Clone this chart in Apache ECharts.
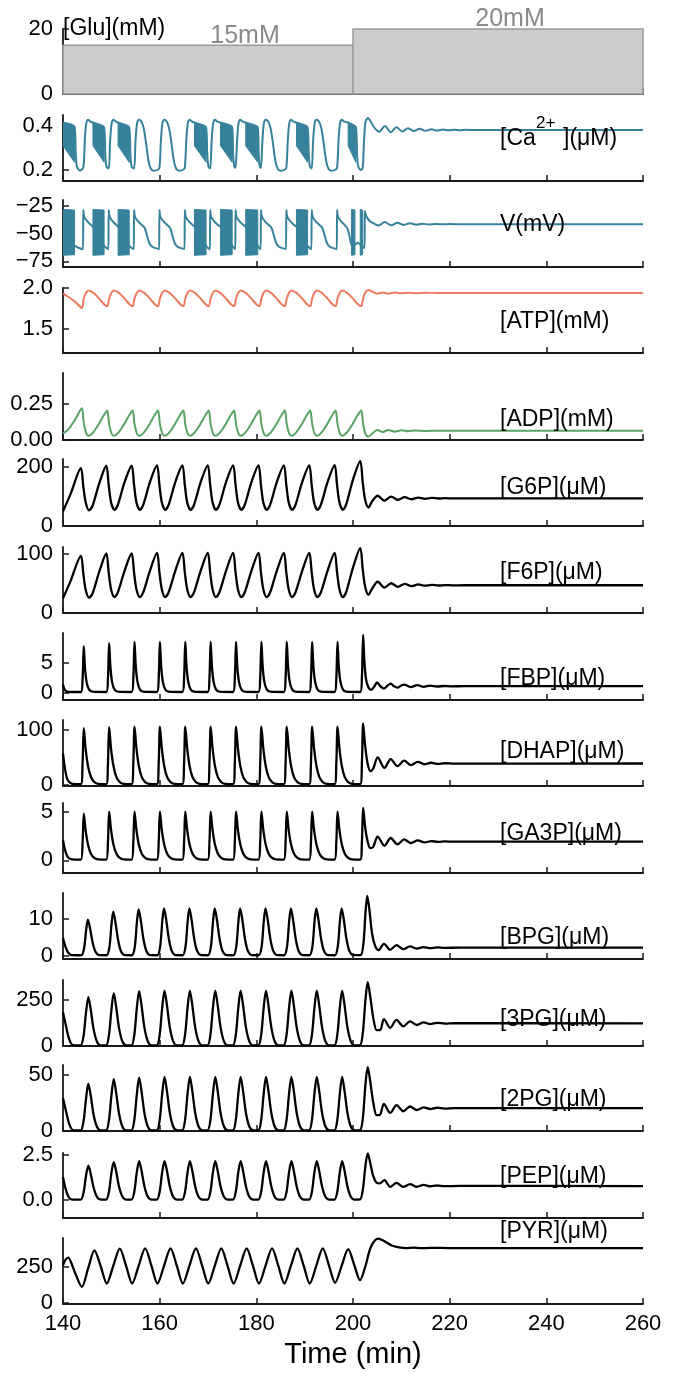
<!DOCTYPE html>
<html>
<head>
<meta charset="utf-8">
<script src="https://cdn.jsdelivr.net/npm/echarts@6/dist/echarts.min.js"></script>
<style>
  html, body { margin: 0; padding: 0; background: #fff; }
  #chart { width: 677px; height: 1373px; }
</style>
</head>
<body>
<div id="chart"></div>
<script>
// ---- Stimulus: glucose steps [start, end, level mM] ----
const gluSteps = [[140, 200, 15], [200, 260, 20]];

// ---- Fast bursting episodes [start, end] (min) ----
const caBursts = [[140, 142.4], [146.2, 148.5], [151.4, 153.7], [167.2, 169.6], [172.6, 175.0], [177.8, 180.3], [188.3, 190.6], [199.0, 200.6]];
const caBurstTop = [0.418, 0.398];
const caBurstBottom = [0.31, 0.235];
const vBursts = [[140, 142.4], [146.2, 148.5], [151.4, 153.7], [167.2, 169.6], [172.6, 175.0], [177.8, 180.3], [188.3, 190.6], [199.7, 200.4], [201.5, 202.0]];
const vBurstTop = [-28.5, -29];
const vBurstBottom = [-69.5, -69];

// ---- [Ca2+] (uM), slow envelope ----
const ca = [
[140,0.415],[142.4,0.395],[142.65,0.27],[142.9,0.215],[143.5,0.198],[144.2,0.212],
[144.5,0.33],[144.8,0.41],[145.2,0.428],[145.7,0.42],[146.2,0.415],[148.5,0.393],[148.75,0.27],[149.0,0.215],[149.45,0.207],
[149.75,0.33],[150.05,0.41],[150.45,0.428],[150.95,0.42],[151.4,0.415],[153.7,0.393],[153.95,0.27],[154.2,0.215],[154.7,0.207],
[155.0,0.33],[155.3,0.41],[155.7,0.428],[156.2,0.42],[156.7,0.39],[157.2,0.32],[157.7,0.24],[158.2,0.205],[158.9,0.197],[159.5,0.2],[159.95,0.21],
[160.25,0.33],[160.55,0.41],[160.95,0.428],[161.45,0.42],[161.95,0.39],[162.45,0.32],[162.95,0.24],[163.45,0.205],[164.15,0.197],[164.75,0.2],[165.2,0.21],
[165.5,0.33],[165.8,0.41],[166.2,0.428],[166.7,0.42],[167.2,0.415],[169.6,0.393],[169.85,0.27],[170.1,0.215],[170.45,0.207],
[170.75,0.33],[171.05,0.41],[171.45,0.428],[171.95,0.42],[172.6,0.415],[175.0,0.393],[175.2,0.27],[175.45,0.215],[175.7,0.21],
[176.0,0.33],[176.3,0.41],[176.7,0.428],[177.2,0.42],[177.8,0.415],[180.3,0.393],[180.5,0.27],[180.7,0.215],[180.95,0.21],
[181.25,0.33],[181.55,0.41],[181.95,0.428],[182.45,0.42],[182.95,0.39],[183.45,0.32],[183.95,0.24],[184.45,0.205],[185.15,0.197],[185.75,0.2],[186.2,0.21],
[186.5,0.33],[186.8,0.41],[187.2,0.428],[187.7,0.42],[188.3,0.415],[190.6,0.393],[190.85,0.27],[191.1,0.215],[191.45,0.207],
[191.75,0.33],[192.05,0.41],[192.45,0.428],[192.95,0.42],[193.45,0.39],[193.95,0.32],[194.45,0.24],[194.95,0.205],[195.65,0.197],[196.25,0.2],[196.7,0.21],
[197.0,0.33],[197.3,0.41],[197.7,0.428],[198.2,0.42],[199.0,0.415],[200.6,0.393],[200.85,0.27],[201.1,0.215],[201.6,0.2],[202.0,0.21],
[202.3,0.34],[202.6,0.42],[203.1,0.436],[203.8,0.415],[204.5,0.39],[205.4,0.374],[206.6,0.4],[207.8,0.372],[209.0,0.394],[210.2,0.375],[211.4,0.39],[212.6,0.377],[213.8,0.387],[215.0,0.378],[216.2,0.385],[217.4,0.379],[218.6,0.384],[219.8,0.3805],[221.0,0.383],[222.2,0.381],[223.4,0.3825],[225,0.3815],[228,0.382],[260,0.382]
];

// ---- Membrane potential V (mV) ----
const vm = [
[140,-60],[142.4,-61],[143.3,-63],[144.15,-64],
[144.2,-29],[144.4,-35],[145.0,-39],[145.7,-42],[146.2,-44],[148.5,-61],[149.0,-63],[149.4,-64],
[149.45,-29],[149.65,-35],[150.25,-39],[150.95,-42],[151.4,-44],[153.7,-61],[154.2,-63],[154.65,-64],
[154.7,-29],[154.9,-35],[155.5,-39],[156.2,-42],[156.9,-45],[157.4,-52],[157.9,-59],[158.5,-62],[159.9,-64],
[159.95,-29],[160.15,-35],[160.75,-39],[161.45,-42],[162.15,-45],[162.65,-52],[163.15,-59],[163.75,-62],[165.15,-64],
[165.2,-29],[165.4,-35],[166.0,-39],[166.7,-42],[167.2,-44],[169.6,-61],[170.0,-63],[170.4,-64],
[170.45,-29],[170.65,-35],[171.25,-39],[171.95,-42],[172.6,-44],[175.0,-61],[175.4,-63],[175.65,-64],
[175.7,-29],[175.9,-35],[176.5,-39],[177.2,-42],[177.8,-44],[180.3,-61],[180.6,-63],[180.9,-64],
[180.95,-29],[181.15,-35],[181.75,-39],[182.45,-42],[183.15,-45],[183.65,-52],[184.15,-59],[184.75,-62],[186.15,-64],
[186.2,-29],[186.4,-35],[187.0,-39],[187.7,-42],[188.3,-44],[190.6,-61],[191.0,-63],[191.4,-64],
[191.45,-29],[191.65,-35],[192.25,-39],[192.95,-42],[193.65,-45],[194.15,-52],[194.65,-59],[195.25,-62],[196.65,-64],
[196.7,-29],[196.9,-35],[197.5,-39],[198.2,-42],[198.9,-46],[199.4,-55],[199.7,-60],[200.4,-60],[201.0,-58],[201.5,-60],[202.0,-62],[202.4,-63],
[202.45,-30],[202.8,-35],[203.5,-39],[204.3,-41],[205.3,-42.8],[206.6,-39.8],[207.9,-42.7],[209.2,-40.4],[210.5,-42.3],[211.8,-40.9],[213.1,-42.1],[214.4,-41.3],[215.7,-41.9],[217,-41.5],[218.5,-41.8],[220,-41.6],[223,-41.75],[260,-41.75]
];

// ---- [ATP] (mM) ----
const atp = [
[140,1.93],[141.0,1.895],[142.5,1.83],[143.9,1.755],
[144.3,1.87],[144.8,1.945],[145.3,1.97],[146.3,1.94],[147.4,1.875],[148.5,1.80],
[149.15,1.775],[149.55,1.87],[150.05,1.945],[150.55,1.97],[151.55,1.94],[152.65,1.875],[153.75,1.80],
[154.4,1.775],[154.8,1.87],[155.3,1.945],[155.8,1.97],[156.8,1.94],[157.9,1.875],[159.0,1.80],
[159.65,1.775],[160.05,1.87],[160.55,1.945],[161.05,1.97],[162.05,1.94],[163.15,1.875],[164.25,1.80],
[164.9,1.775],[165.3,1.87],[165.8,1.945],[166.3,1.97],[167.3,1.94],[168.4,1.875],[169.5,1.80],
[170.15,1.775],[170.55,1.87],[171.05,1.945],[171.55,1.97],[172.55,1.94],[173.65,1.875],[174.75,1.80],
[175.4,1.775],[175.8,1.87],[176.3,1.945],[176.8,1.97],[177.8,1.94],[178.9,1.875],[180.0,1.80],
[180.65,1.775],[181.05,1.87],[181.55,1.945],[182.05,1.97],[183.05,1.94],[184.15,1.875],[185.25,1.80],
[185.9,1.775],[186.3,1.87],[186.8,1.945],[187.3,1.97],[188.3,1.94],[189.4,1.875],[190.5,1.80],
[191.15,1.775],[191.55,1.87],[192.05,1.945],[192.55,1.97],[193.55,1.94],[194.65,1.875],[195.75,1.80],
[196.4,1.775],[196.8,1.87],[197.3,1.945],[197.8,1.97],[198.8,1.94],[199.9,1.875],[201.0,1.80],
[201.7,1.775],[202.1,1.87],[202.6,1.95],[203.2,1.975],[204.0,1.955],[205.0,1.93],[206.1,1.946],[207.3,1.93],[208.6,1.945],[210.0,1.934],[211.4,1.943],[213.0,1.936],[215.0,1.941],[218.0,1.939],[260,1.94]
];

// ---- [ADP] (mM) ----
const adp = [
[140,0.046],[141.0,0.07],[142.5,0.14],[143.9,0.22],
[144.3,0.12],[144.8,0.048],[145.3,0.03],[146.3,0.055],[147.4,0.11],[148.5,0.175],
[149.15,0.205],[149.55,0.11],[150.05,0.045],[150.55,0.03],[151.55,0.055],[152.65,0.11],[153.75,0.175],
[154.4,0.205],[154.8,0.11],[155.3,0.045],[155.8,0.03],[156.8,0.055],[157.9,0.11],[159.0,0.175],
[159.65,0.205],[160.05,0.11],[160.55,0.045],[161.05,0.03],[162.05,0.055],[163.15,0.11],[164.25,0.175],
[164.9,0.205],[165.3,0.11],[165.8,0.045],[166.3,0.03],[167.3,0.055],[168.4,0.11],[169.5,0.175],
[170.15,0.205],[170.55,0.11],[171.05,0.045],[171.55,0.03],[172.55,0.055],[173.65,0.11],[174.75,0.175],
[175.4,0.205],[175.8,0.11],[176.3,0.045],[176.8,0.03],[177.8,0.055],[178.9,0.11],[180.0,0.175],
[180.65,0.205],[181.05,0.11],[181.55,0.045],[182.05,0.03],[183.05,0.055],[184.15,0.11],[185.25,0.175],
[185.9,0.205],[186.3,0.11],[186.8,0.045],[187.3,0.03],[188.3,0.055],[189.4,0.11],[190.5,0.175],
[191.15,0.205],[191.55,0.11],[192.05,0.045],[192.55,0.03],[193.55,0.055],[194.65,0.11],[195.75,0.175],
[196.4,0.205],[196.8,0.11],[197.3,0.045],[197.8,0.03],[198.8,0.055],[199.9,0.11],[201.0,0.175],
[201.7,0.205],[202.1,0.11],[202.6,0.04],[203.2,0.025],[204.0,0.045],[205.0,0.07],[206.1,0.055],[207.3,0.07],[208.6,0.058],[210.0,0.068],[211.4,0.061],[213.0,0.066],[215.0,0.063],[218.0,0.065],[260,0.065]
];

// ---- [G6P] (uM) ----
const g6p = [
[140,50],[141.6,110],[143.7,197],
[144.2,135],[144.7,80],[145.4,53],[146.1,68],[147.5,145],[148.95,205],
[149.45,140],[149.95,80],[150.65,55],[151.35,72],[152.75,150],[154.2,205],
[154.7,140],[155.2,80],[155.9,55],[156.6,72],[158.0,150],[159.45,206],
[159.95,140],[160.45,80],[161.15,55],[161.85,72],[163.25,150],[164.7,206],
[165.2,140],[165.7,80],[166.4,55],[167.1,72],[168.5,150],[169.95,206],
[170.45,140],[170.95,80],[171.65,55],[172.35,72],[173.75,150],[175.2,206],
[175.7,140],[176.2,80],[176.9,55],[177.6,72],[179.0,150],[180.45,206],
[180.95,140],[181.45,80],[182.15,55],[182.85,72],[184.25,150],[185.7,206],
[186.2,140],[186.7,80],[187.4,55],[188.1,72],[189.5,150],[190.95,206],
[191.45,140],[191.95,80],[192.65,55],[193.35,72],[194.75,150],[196.2,207],
[196.7,140],[197.2,80],[197.9,55],[198.6,74],[200.0,158],[201.5,221],
[202.0,150],[202.5,90],[203.2,63],[204.0,85],[205.1,103],[206.5,86],[207.9,100],[209.3,89],[210.7,98],[212.1,91],[213.5,96.5],[214.9,92.5],[216.3,95.5],[217.7,93.5],[219.1,94.8],[220.5,93.8],[223,94.3],[260,94.2]
];

// ---- [F6P] (uM) ----
const f6p = [
[140,25],[141.6,55],[143.7,97],
[144.2,67],[144.7,39],[145.4,26],[146.1,33],[147.5,70],[148.95,101],
[149.45,69],[149.95,40],[150.65,27],[151.35,35],[152.75,72],[154.2,101],
[154.7,69],[155.2,40],[155.9,27],[156.6,35],[158.0,72],[159.45,102],
[159.95,69],[160.45,40],[161.15,27],[161.85,35],[163.25,72],[164.7,102],
[165.2,69],[165.7,40],[166.4,27],[167.1,35],[168.5,72],[169.95,102],
[170.45,69],[170.95,40],[171.65,27],[172.35,35],[173.75,72],[175.2,102],
[175.7,69],[176.2,40],[176.9,27],[177.6,35],[179.0,72],[180.45,102],
[180.95,69],[181.45,40],[182.15,27],[182.85,35],[184.25,72],[185.7,102],
[186.2,69],[186.7,40],[187.4,27],[188.1,35],[189.5,72],[190.95,102],
[191.45,69],[191.95,40],[192.65,27],[193.35,35],[194.75,72],[196.2,102],
[196.7,69],[197.2,40],[197.9,27],[198.6,36],[200.0,77],[201.5,110],
[202.0,75],[202.5,45],[203.2,31],[204.0,42],[205.1,53],[206.5,43],[207.9,50.5],[209.3,44.5],[210.7,49.5],[212.1,45.5],[213.5,48.5],[214.9,46.3],[216.3,47.8],[217.7,46.7],[219.1,47.4],[220.5,46.9],[223,47.1],[260,47.1]
];

// ---- [FBP] (uM) ----
const fbp = [
[140,1.4],[140.3,0.6],[140.8,0.22],[141.5,0.15],
[143.7,0.15],[144.05,2.3],[144.3,7.9],[144.55,4.2],[144.9,1.75],[145.4,0.55],[146.1,0.2],
[148.95,0.15],[149.3,2.4],[149.55,8.4],[149.8,4.5],[150.15,1.85],[150.65,0.58],[151.35,0.2],
[154.2,0.15],[154.55,2.5],[154.8,8.6],[155.05,4.6],[155.4,1.9],[155.9,0.6],[156.6,0.2],
[159.45,0.15],[159.8,2.5],[160.05,8.6],[160.3,4.6],[160.65,1.9],[161.15,0.6],[161.85,0.2],
[164.7,0.15],[165.05,2.5],[165.3,8.6],[165.55,4.6],[165.9,1.9],[166.4,0.6],[167.1,0.2],
[169.95,0.15],[170.3,2.5],[170.55,8.6],[170.8,4.6],[171.15,1.9],[171.65,0.6],[172.35,0.2],
[175.2,0.15],[175.55,2.5],[175.8,8.6],[176.05,4.6],[176.4,1.9],[176.9,0.6],[177.6,0.2],
[180.45,0.15],[180.8,2.5],[181.05,8.6],[181.3,4.6],[181.65,1.9],[182.15,0.6],[182.85,0.2],
[185.7,0.15],[186.05,2.5],[186.3,8.6],[186.55,4.6],[186.9,1.9],[187.4,0.6],[188.1,0.2],
[190.95,0.15],[191.3,2.5],[191.55,8.6],[191.8,4.6],[192.15,1.9],[192.65,0.6],[193.35,0.2],
[196.2,0.15],[196.55,2.5],[196.8,8.6],[197.05,4.6],[197.4,1.9],[197.9,0.6],[198.6,0.2],
[201.5,0.15],[201.85,2.8],[202.1,9.8],[202.35,5.4],[202.7,2.3],[203.2,0.9],[203.7,0.5],[204.3,0.95],[205.0,1.75],[205.7,1.1],[206.4,0.72],[207.1,1.2],[207.8,1.55],[208.5,1.1],[209.2,0.88],[209.9,1.2],[210.6,1.4],[211.9,0.97],[213.3,1.3],[214.6,1.03],[216.0,1.22],[217.4,1.08],[218.8,1.16],[220.2,1.11],[223.0,1.13],[260,1.13]
];

// ---- [DHAP] (uM) ----
const dhap = [
[140,57],[140.4,30],[140.9,10],[141.6,3],[142.5,1.5],
[143.7,1.5],[144.05,39],[144.3,103],[144.7,64],[145.2,33],[145.8,14],[146.5,5],[147.3,2],
[148.95,1.5],[149.3,40],[149.55,105],[149.95,65],[150.45,34],[151.05,14],[151.75,5],[152.55,2],
[154.2,1.5],[154.55,40],[154.8,106],[155.2,66],[155.7,34],[156.3,14],[157.0,5],[157.8,2],
[159.45,1.5],[159.8,40],[160.05,106],[160.45,66],[160.95,34],[161.55,14],[162.25,5],[163.05,2],
[164.7,1.5],[165.05,40],[165.3,106],[165.7,66],[166.2,34],[166.8,14],[167.5,5],[168.3,2],
[169.95,1.5],[170.3,40],[170.55,106],[170.95,66],[171.45,34],[172.05,14],[172.75,5],[173.55,2],
[175.2,1.5],[175.55,40],[175.8,106],[176.2,66],[176.7,34],[177.3,14],[178.0,5],[178.8,2],
[180.45,1.5],[180.8,40],[181.05,106],[181.45,66],[181.95,34],[182.55,14],[183.25,5],[184.05,2],
[185.7,1.5],[186.05,40],[186.3,106],[186.7,66],[187.2,34],[187.8,14],[188.5,5],[189.3,2],
[190.95,1.5],[191.3,40],[191.55,106],[191.95,66],[192.45,34],[193.05,14],[193.75,5],[194.55,2],
[196.2,1.5],[196.55,40],[196.8,106],[197.2,66],[197.7,34],[198.3,14],[199.0,5],[199.8,2],
[201.5,1.5],[201.85,42],[202.1,112],[202.5,72],[203.0,40],[203.6,25],[204.2,30],[205.1,50],[206.5,31],[207.8,47],[209.2,34],[210.6,44],[212.0,36],[213.4,42],[214.8,37.5],[216.2,40.3],[217.6,38.3],[219.0,39.4],[221.0,38.7],[260,38.9]
];

// ---- [GA3P] (uM) ----
const ga3p = [
[140,2.1],[140.4,1.1],[140.9,0.4],[141.6,0.12],[142.5,0.08],
[143.7,0.08],[144.05,1.8],[144.3,4.8],[144.7,3.0],[145.2,1.55],[145.8,0.65],[146.5,0.24],[147.3,0.1],
[148.95,0.08],[149.3,1.9],[149.55,5.0],[149.95,3.1],[150.45,1.6],[151.05,0.68],[151.75,0.25],[152.55,0.1],
[154.2,0.08],[154.55,1.9],[154.8,5.0],[155.2,3.1],[155.7,1.6],[156.3,0.68],[157.0,0.25],[157.8,0.1],
[159.45,0.08],[159.8,1.9],[160.05,5.0],[160.45,3.1],[160.95,1.6],[161.55,0.68],[162.25,0.25],[163.05,0.1],
[164.7,0.08],[165.05,1.9],[165.3,5.0],[165.7,3.1],[166.2,1.6],[166.8,0.68],[167.5,0.25],[168.3,0.1],
[169.95,0.08],[170.3,1.9],[170.55,5.0],[170.95,3.1],[171.45,1.6],[172.05,0.68],[172.75,0.25],[173.55,0.1],
[175.2,0.08],[175.55,1.9],[175.8,5.0],[176.2,3.1],[176.7,1.6],[177.3,0.68],[178.0,0.25],[178.8,0.1],
[180.45,0.08],[180.8,1.9],[181.05,5.0],[181.45,3.1],[181.95,1.6],[182.55,0.68],[183.25,0.25],[184.05,0.1],
[185.7,0.08],[186.05,1.9],[186.3,5.0],[186.7,3.1],[187.2,1.6],[187.8,0.68],[188.5,0.25],[189.3,0.1],
[190.95,0.08],[191.3,1.9],[191.55,5.0],[191.95,3.1],[192.45,1.6],[193.05,0.68],[193.75,0.25],[194.55,0.1],
[196.2,0.08],[196.55,1.9],[196.8,5.0],[197.2,3.1],[197.7,1.6],[198.3,0.68],[199.0,0.25],[199.8,0.1],
[201.5,0.08],[201.85,2.0],[202.1,5.4],[202.5,3.5],[203.0,2.0],[203.6,1.25],[204.2,1.4],[205.1,2.45],[206.5,1.5],[207.8,2.3],[209.2,1.65],[210.6,2.15],[212.0,1.78],[213.4,2.05],[214.8,1.85],[216.2,1.98],[217.6,1.9],[219.0,1.95],[221.0,1.92],[260,1.93]
];

// ---- [BPG] (uM) ----
const bpg = [
[140,4.8],[140.5,2.5],[141.1,0.8],[141.8,0.15],[142.8,0.12],
[143.75,0.12],[144.35,1.9],[144.8,7.2],[145.15,9.8],[145.6,7.4],[146.15,3.5],[146.75,1.0],[147.55,0.15],
[149.0,0.12],[149.6,2.3],[150.05,8.8],[150.4,12.0],[150.85,9.1],[151.4,4.3],[152.0,1.2],[152.8,0.15],
[154.25,0.12],[154.85,2.4],[155.3,9.3],[155.65,12.6],[156.1,9.6],[156.65,4.5],[157.25,1.3],[158.05,0.15],
[159.5,0.12],[160.1,2.5],[160.55,9.5],[160.9,12.9],[161.35,9.8],[161.9,4.6],[162.5,1.3],[163.3,0.15],
[164.75,0.12],[165.35,2.5],[165.8,9.5],[166.15,12.9],[166.6,9.8],[167.15,4.6],[167.75,1.3],[168.55,0.15],
[170.0,0.12],[170.6,2.5],[171.05,9.5],[171.4,12.9],[171.85,9.8],[172.4,4.6],[173.0,1.3],[173.8,0.15],
[175.25,0.12],[175.85,2.5],[176.3,9.5],[176.65,12.9],[177.1,9.8],[177.65,4.6],[178.25,1.3],[179.05,0.15],
[180.5,0.12],[181.1,2.5],[181.55,9.5],[181.9,12.9],[182.35,9.8],[182.9,4.6],[183.5,1.3],[184.3,0.15],
[185.75,0.12],[186.35,2.5],[186.8,9.5],[187.15,12.9],[187.6,9.8],[188.15,4.6],[188.75,1.3],[189.55,0.15],
[191.0,0.12],[191.6,2.5],[192.05,9.5],[192.4,12.9],[192.85,9.8],[193.4,4.6],[194.0,1.3],[194.8,0.15],
[196.25,0.12],[196.85,2.5],[197.3,9.5],[197.65,12.9],[198.1,9.8],[198.65,4.6],[199.25,1.3],[200.05,0.15],
[201.55,0.15],[202.15,3.2],[202.6,12.0],[202.95,16.3],[203.4,12.4],[203.95,6.0],[204.6,2.6],[205.3,1.5],[206.4,3.2],[207.7,1.6],[209.0,2.9],[210.4,1.8],[211.8,2.55],[213.2,1.95],[214.6,2.35],[216.0,2.05],[217.4,2.25],[219.0,2.15],[222.0,2.18],[260,2.18]
];

// ---- [3PG] (uM) ----
const pg3 = [
[140,182],[140.6,110],[141.3,35],[142.0,5],[143.0,3],
[143.65,3],[144.25,53],[144.75,177],[145.25,263],[145.75,194],[146.35,88],[147.05,22],[147.85,3],
[148.9,3],[149.5,57],[150.0,190],[150.5,284],[151.0,210],[151.6,95],[152.3,24],[153.1,3],
[154.15,3],[154.75,59],[155.25,198],[155.75,295],[156.25,218],[156.85,99],[157.55,25],[158.35,3],
[159.4,3],[160.0,60],[160.5,200],[161.0,298],[161.5,220],[162.1,100],[162.8,25],[163.6,3],
[164.65,3],[165.25,60],[165.75,200],[166.25,298],[166.75,220],[167.35,100],[168.05,25],[168.85,3],
[169.9,3],[170.5,60],[171.0,200],[171.5,298],[172.0,220],[172.6,100],[173.3,25],[174.1,3],
[175.15,3],[175.75,60],[176.25,200],[176.75,298],[177.25,220],[177.85,100],[178.55,25],[179.35,3],
[180.4,3],[181.0,60],[181.5,200],[182.0,298],[182.5,220],[183.1,100],[183.8,25],[184.6,3],
[185.65,3],[186.25,60],[186.75,200],[187.25,298],[187.75,220],[188.35,100],[189.05,25],[189.85,3],
[190.9,3],[191.5,60],[192.0,200],[192.5,298],[193.0,220],[193.6,100],[194.3,25],[195.1,3],
[196.15,3],[196.75,60],[197.25,200],[197.75,298],[198.25,220],[198.85,100],[199.55,25],[200.35,3],
[201.45,4],[202.05,75],[202.55,240],[203.05,343],[203.6,260],[204.2,150],[204.9,85],[205.6,85],[206.4,145],[207.7,98],[209.0,140],[210.4,106],[211.8,132],[213.2,113],[214.6,127],[216.0,118],[217.4,124.5],[219.0,120.5],[221.0,122.5],[260,122]
];

// ---- [2PG] (uM) ----
const pg2 = [
[140,29],[140.6,18],[141.3,6],[142.0,0.8],[143.0,0.5],
[143.65,0.5],[144.25,8.5],[144.75,28],[145.25,42],[145.75,31],[146.35,14],[147.05,3.5],[147.85,0.5],
[148.9,0.5],[149.5,9.3],[150.0,30.7],[150.5,46],[151.0,34],[151.6,15.3],[152.3,3.8],[153.1,0.5],
[154.15,0.5],[154.75,9.5],[155.25,31.5],[155.75,47.3],[156.25,35],[156.85,15.8],[157.55,3.9],[158.35,0.5],
[159.4,0.5],[160.0,9.7],[160.5,32],[161.0,48],[161.5,35.5],[162.1,16],[162.8,4],[163.6,0.5],
[164.65,0.5],[165.25,9.7],[165.75,32],[166.25,48],[166.75,35.5],[167.35,16],[168.05,4],[168.85,0.5],
[169.9,0.5],[170.5,9.7],[171.0,32],[171.5,48],[172.0,35.5],[172.6,16],[173.3,4],[174.1,0.5],
[175.15,0.5],[175.75,9.7],[176.25,32],[176.75,48],[177.25,35.5],[177.85,16],[178.55,4],[179.35,0.5],
[180.4,0.5],[181.0,9.7],[181.5,32],[182.0,48],[182.5,35.5],[183.1,16],[183.8,4],[184.6,0.5],
[185.65,0.5],[186.25,9.7],[186.75,32],[187.25,48],[187.75,35.5],[188.35,16],[189.05,4],[189.85,0.5],
[190.9,0.5],[191.5,9.7],[192.0,32],[192.5,48],[193.0,35.5],[193.6,16],[194.3,4],[195.1,0.5],
[196.15,0.5],[196.75,9.7],[197.25,32],[197.75,48],[198.25,35.5],[198.85,16],[199.55,4],[200.35,0.5],
[201.45,0.7],[202.05,12],[202.55,40],[203.05,56.5],[203.6,43],[204.2,25],[204.9,14],[205.6,14.5],[206.4,24],[207.7,16],[209.0,23],[210.4,17.5],[211.8,21.7],[213.2,18.6],[214.6,21],[216.0,19.5],[217.4,20.6],[219.0,19.9],[221.0,20.3],[260,20.2]
];

// ---- [PEP] (uM) ----
const pep = [
[140,1.27],[140.5,0.65],[141.2,0.15],[141.9,0.02],
[143.65,0.02],[144.25,0.4],[144.75,1.33],[145.25,1.9],[145.75,1.43],[146.35,0.66],[147.05,0.16],[147.85,0.02],
[148.9,0.02],[149.5,0.44],[150.0,1.47],[150.5,2.1],[151.0,1.58],[151.6,0.73],[152.3,0.18],[153.1,0.02],
[154.15,0.02],[154.75,0.45],[155.25,1.5],[155.75,2.15],[156.25,1.62],[156.85,0.75],[157.55,0.18],[158.35,0.02],
[159.4,0.02],[160.0,0.45],[160.5,1.5],[161.0,2.15],[161.5,1.62],[162.1,0.75],[162.8,0.18],[163.6,0.02],
[164.65,0.02],[165.25,0.45],[165.75,1.5],[166.25,2.15],[166.75,1.62],[167.35,0.75],[168.05,0.18],[168.85,0.02],
[169.9,0.02],[170.5,0.45],[171.0,1.5],[171.5,2.15],[172.0,1.62],[172.6,0.75],[173.3,0.18],[174.1,0.02],
[175.15,0.02],[175.75,0.45],[176.25,1.5],[176.75,2.15],[177.25,1.62],[177.85,0.75],[178.55,0.18],[179.35,0.02],
[180.4,0.02],[181.0,0.45],[181.5,1.5],[182.0,2.15],[182.5,1.62],[183.1,0.75],[183.8,0.18],[184.6,0.02],
[185.65,0.02],[186.25,0.45],[186.75,1.5],[187.25,2.15],[187.75,1.62],[188.35,0.75],[189.05,0.18],[189.85,0.02],
[190.9,0.02],[191.5,0.45],[192.0,1.5],[192.5,2.15],[193.0,1.62],[193.6,0.75],[194.3,0.18],[195.1,0.02],
[196.15,0.02],[196.75,0.45],[197.25,1.5],[197.75,2.15],[198.25,1.62],[198.85,0.75],[199.55,0.18],[200.35,0.02],
[201.45,0.03],[202.05,0.6],[202.55,1.85],[203.05,2.58],[203.6,2.0],[204.2,1.3],[204.9,0.95],[205.6,0.92],[206.5,1.1],[207.7,0.72],[209.0,0.95],[210.4,0.72],[211.8,0.88],[213.2,0.73],[214.6,0.84],[216.0,0.75],[217.4,0.8],[219.0,0.76],[222.0,0.78],[260,0.77]
];

// ---- [PYR] (uM) ----
const pyr = [
[140,262],[140.5,300],[141.1,315],[141.7,280],[142.6,200],[143.9,112],
[145.2,240],[146.5,366],[147.8,255],[149.05,135],
[150.4,258],[151.75,378],[153.05,258],[154.3,135],
[155.65,258],[157.0,380],[158.3,258],[159.55,135],
[160.9,258],[162.25,380],[163.55,258],[164.8,135],
[166.15,258],[167.5,380],[168.8,258],[170.05,135],
[171.4,258],[172.75,380],[174.05,258],[175.3,135],
[176.65,258],[178.0,380],[179.3,258],[180.55,135],
[181.9,258],[183.25,380],[184.55,258],[185.8,135],
[187.15,258],[188.5,380],[189.8,258],[191.05,135],
[192.4,258],[193.75,380],[195.05,258],[196.3,140],
[197.65,258],[199.0,375],[200.25,265],[201.45,158],
[202.6,260],[203.7,390],[205.2,448],[206.6,428],[208.0,400],[209.5,386],[211.0,381],[212.5,385],[214.0,381],[216.0,383],[220.0,382],[260,382]
];

// ---- Axes: y ranges, tick values, label decimals (one entry per panel, top to bottom) ----
const yRanges = [[0,20],[0.15,0.45],[-80,-20],[1.2,2.0],[0,0.465],[0,228],[0,112],[-1.2,10.1],[-2,118],[-1.3,5.9],[-0.9,17.1],[0,355],[0,58.5],[-1.0,2.6],[-8,452]];
const yTicks = [[0,20],[0.2,0.4],[-75,-50,-25],[1.5,2.0],[0,0.25],[0,200],[0,100],[0,5],[0,100],[0,5],[0,10],[0,250],[0,50],[0,2.5],[0,250]];
const yDecimals = [0,1,0,1,2,0,0,0,0,0,0,0,0,1,0];

// ---- Layout ----
const panelBox = [[29,94],[115,181],[200,267],[288,353],[373,440],[459,526],[547,613],[633,700],[720,786],[803,873],[893,959],[980,1046],[1065,1131],[1153,1218],[1238,1304]];
const FONT = '"Liberation Sans", Arial, Helvetica, sans-serif';
const AX = '#1a1a1a';
const TEAL = '#36819b', CORAL = '#ef7b5f', GREEN = '#58a363', INK = '#000000';
const N = panelBox.length;

const grid = panelBox.map(([t, b]) => ({ left: 63, right: 34, top: t, height: b - t }));

const xAxis = panelBox.map((_, i) => ({
  gridIndex: i, type: 'value', min: 140, max: 260, interval: 20,
  axisLine: { show: true, onZero: false, lineStyle: { color: AX, width: 1.8 } },
  axisTick: { show: true, inside: true, length: 6, lineStyle: { color: AX, width: 1.5 } },
  axisLabel: { show: i === N - 1, margin: 9, fontSize: 22, color: '#000', fontFamily: FONT },
  splitLine: { show: false }
}));

const fmt = (v, d) => v.toFixed(d).replace('-', '\u2212');
const yAxis = panelBox.map((_, i) => ({
  gridIndex: i, type: 'value', min: yRanges[i][0], max: yRanges[i][1],
  axisLine: { show: true, onZero: false, lineStyle: { color: AX, width: 1.8 } },
  axisTick: { show: true, inside: true, length: 6, customValues: yTicks[i], lineStyle: { color: AX, width: 1.5 } },
  axisLabel: { customValues: yTicks[i], formatter: v => fmt(v, yDecimals[i]), margin: 10, fontSize: 22, color: '#000', fontFamily: FONT },
  splitLine: { show: false }
}));

const line = (i, data, color, width) => ({
  type: 'line', xAxisIndex: i, yAxisIndex: i, data, showSymbol: false, symbol: 'none',
  smooth: 0.3, clip: true, silent: true, z: 3,
  lineStyle: { color, width }
});

// Filled band for fast bursting: linear top/bottom edges across each episode
const burst = (i, data, top, bottom) => ({
  type: 'custom', xAxisIndex: i, yAxisIndex: i, data, clip: true, silent: true, z: 2,
  encode: { x: [0, 1] },
  renderItem: (params, api) => {
    const s = api.value(0), e = api.value(1);
    return {
      type: 'polygon',
      shape: { points: [api.coord([s, top[0]]), api.coord([e, top[1]]), api.coord([e, bottom[1]]), api.coord([s, bottom[0]])] },
      style: { fill: TEAL, stroke: TEAL, lineWidth: 1 }
    };
  }
});

const gluSeries = {
  type: 'custom', xAxisIndex: 0, yAxisIndex: 0, data: gluSteps, silent: true, z: 1,
  encode: { x: [0, 1], y: 2 },
  renderItem: (params, api) => {
    const p0 = api.coord([api.value(0), api.value(2)]);
    const p1 = api.coord([api.value(1), 0]);
    return {
      type: 'rect',
      shape: { x: p0[0], y: p0[1], width: p1[0] - p0[0], height: p1[1] - p0[1] },
      style: { fill: '#cccccc', stroke: '#9a9a9a', lineWidth: 1.5 }
    };
  }
};

const txt = (x, y, text, size, color, align) => ({
  type: 'text', x, y, z: 10, silent: true,
  style: {
    text, font: (size || 23) + 'px ' + FONT, fill: color || '#000',
    align: align || 'left', verticalAlign: 'middle',
    textAlign: align || 'left', textVerticalAlign: 'middle'
  }
});

const graphic = [
  txt(63, 29, '[Glu](mM)'),
  txt(245, 36, '15mM', 25, '#8a8a8a', 'center'),
  txt(510, 19, '20mM', 25, '#8a8a8a', 'center'),
  txt(500, 139, '[Ca'),
  txt(536, 123, '2+', 17),
  txt(563, 139, '](\u03bcM)'),
  txt(500, 225, 'V(mV)'),
  txt(500, 322, '[ATP](mM)'),
  txt(500, 420, '[ADP](mM)'),
  txt(500, 488, '[G6P](\u03bcM)'),
  txt(500, 573, '[F6P](\u03bcM)'),
  txt(500, 679, '[FBP](\u03bcM)'),
  txt(500, 752, '[DHAP](\u03bcM)'),
  txt(500, 834, '[GA3P](\u03bcM)'),
  txt(500, 938, '[BPG](\u03bcM)'),
  txt(500, 1020, '[3PG](\u03bcM)'),
  txt(500, 1100, '[2PG](\u03bcM)'),
  txt(500, 1177, '[PEP](\u03bcM)'),
  txt(500, 1232, '[PYR](\u03bcM)'),
  txt(353, 1355, 'Time (min)', 29, '#000', 'center')
];

const series = [
  gluSeries,
  burst(1, caBursts, caBurstTop, caBurstBottom),
  line(1, ca, TEAL, 2),
  burst(2, vBursts, vBurstTop, vBurstBottom),
  line(2, vm, TEAL, 2),
  line(3, atp, CORAL, 2),
  line(4, adp, GREEN, 2),
  line(5, g6p, INK, 2.3),
  line(6, f6p, INK, 2.3),
  line(7, fbp, INK, 2.3),
  line(8, dhap, INK, 2.3),
  line(9, ga3p, INK, 2.3),
  line(10, bpg, INK, 2.3),
  line(11, pg3, INK, 2.3),
  line(12, pg2, INK, 2.3),
  line(13, pep, INK, 2.3),
  line(14, pyr, INK, 2.3)
];

const chart = echarts.init(document.getElementById('chart'), null, { renderer: 'canvas' });
chart.setOption({
  animation: false,
  backgroundColor: '#ffffff',
  textStyle: { fontFamily: FONT },
  grid, xAxis, yAxis, series, graphic
});
</script>
</body>
</html>
